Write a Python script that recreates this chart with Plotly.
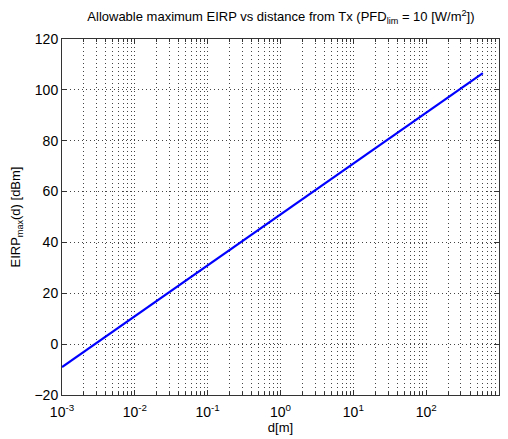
import plotly.graph_objects as go

# data
distance_m = [0.001, 0.01, 0.1, 1, 10, 100, 600]
eirp_dbm = [-9.0, 11.0, 31.0, 51.0, 71.0, 91.0, 106.6]

x_tickvals = [1e-3, 1e-2, 1e-1, 1, 10, 100, 1000]
x_ticktext = ["10<sup>-3</sup>", "10<sup>-2</sup>", "10<sup>-1</sup>", "10<sup>0</sup>",
              "10<sup>1</sup>", "10<sup>2</sup>", "10<sup>3</sup>"]
y_tickvals = [-20, 0, 20, 40, 60, 80, 100, 120]

fig = go.Figure()
fig.add_trace(go.Scatter(x=distance_m, y=eirp_dbm, mode="lines",
                         line=dict(color="#0000ff", width=2.2), showlegend=False))

fam = "Liberation Sans, Arial, sans-serif"
font = dict(family=fam, size=13, color="#000")
dots = "1px,3px"

fig.update_layout(
    width=508, height=439,
    margin=dict(l=62, r=8, t=39, b=42),
    paper_bgcolor="white", plot_bgcolor="white",
    font=font,
    title=dict(text="Allowable maximum EIRP vs distance from Tx (PFD<sub>lim</sub> = 10 [W/m<sup>2</sup>])",
               x=0.553, xanchor="center", y=0.962, yanchor="middle",
               font=dict(family=fam, size=13, color="#000")),
    xaxis=dict(type="log", range=[-3, 3], tickvals=x_tickvals, ticktext=x_ticktext,
               showgrid=True, gridcolor="#444", griddash=dots, gridwidth=1,
               ticks="inside", ticklen=5, tickcolor="#333", showline=True, linecolor="#333",
               linewidth=1, mirror="ticks", zeroline=False,
               minor=dict(dtick="D1", ticks="inside", ticklen=3, tickcolor="#333", showgrid=True,
                          gridcolor="#444", griddash=dots, gridwidth=1),
               ticklabelstandoff=4,
               title=dict(text="d[m]", standoff=2, font=dict(size=13)),
               tickfont=dict(size=14)),
    yaxis=dict(range=[-20, 120], tickvals=y_tickvals,
               showgrid=True, gridcolor="#444", griddash=dots, gridwidth=1,
               ticks="inside", ticklen=5, tickcolor="#333", showline=True, linecolor="#333",
               linewidth=1, mirror="ticks", zeroline=False,
               title=dict(text="EIRP<sub>max</sub>(d) [dBm]", standoff=10, font=dict(size=13)),
               tickfont=dict(size=14)),
)

fig.write_html("out.html")
